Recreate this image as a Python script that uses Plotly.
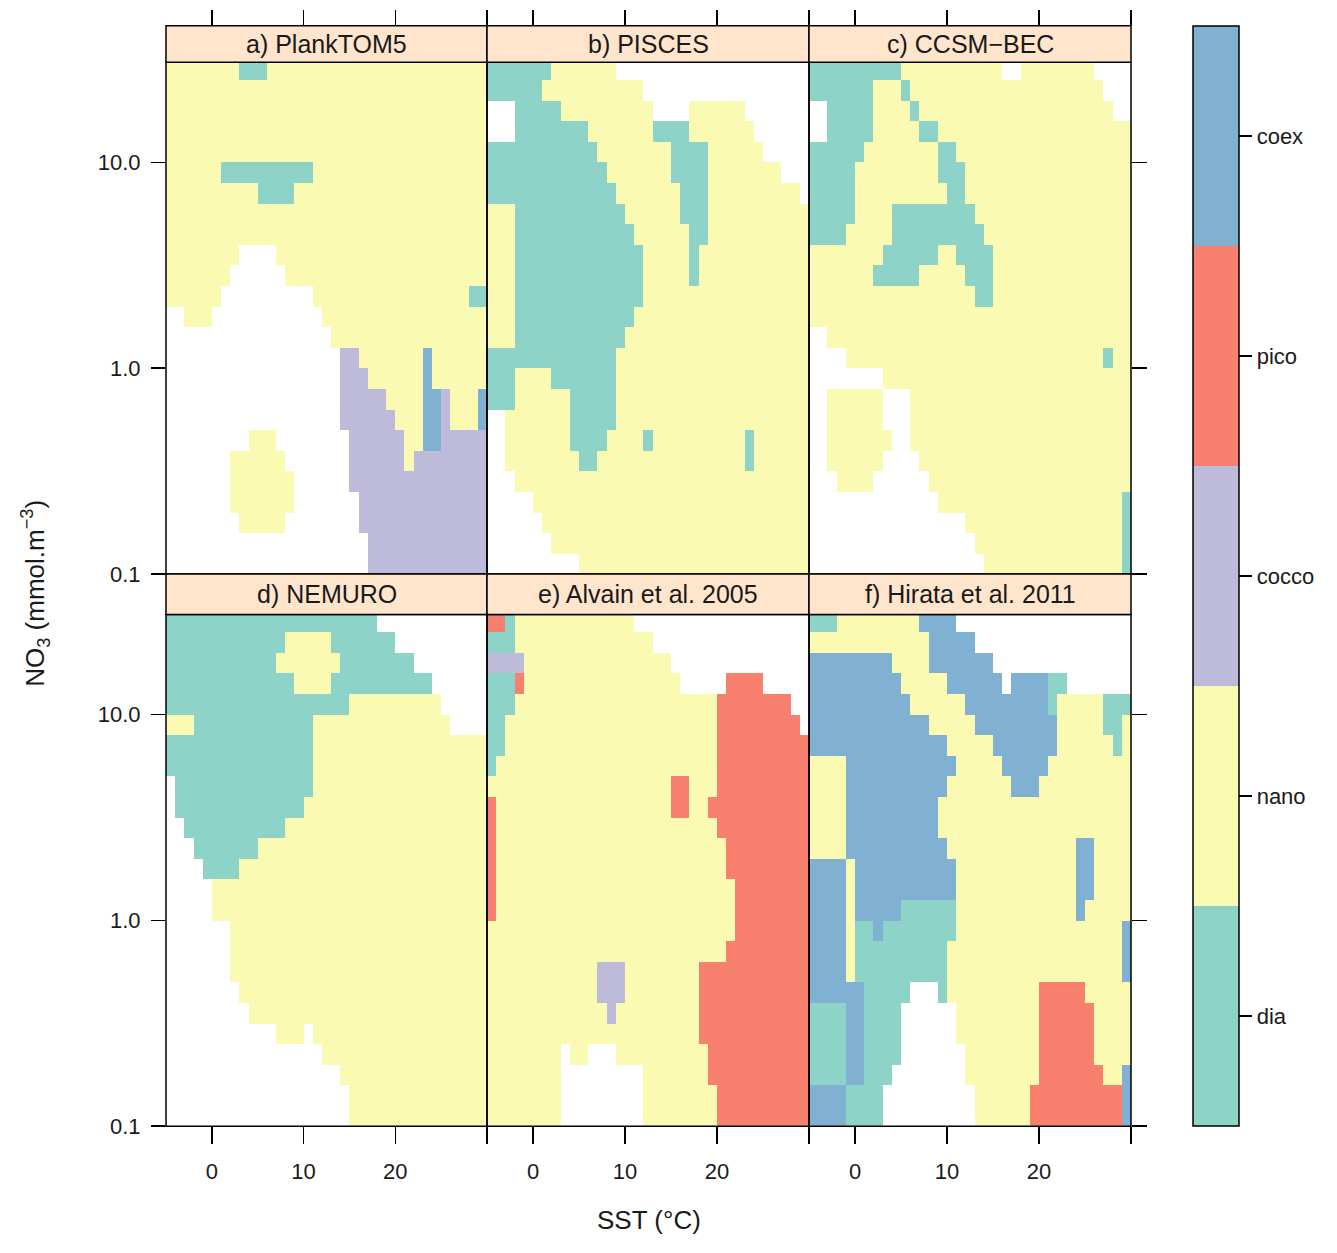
import plotly.graph_objects as go

# ---------------- data ----------------
categories = ["dia", "nano", "cocco", "pico", "coex"]
codes = {"d": 0, "n": 1, "c": 2, "p": 3, "x": 4}
colors = ["#8DD3C7", "#FAFAB2", "#BEBADA", "#F7806F", "#80B1D3"]

# SST cell centres (deg C) and log10(NO3) cell centres (top row first)
sst = [-4.5, -3.5, -2.5, -1.5, -0.5, 0.5, 1.5, 2.5, 3.5, 4.5, 5.5, 6.5, 7.5, 8.5,
       9.5, 10.5, 11.5, 12.5, 13.5, 14.5, 15.5, 16.5, 17.5, 18.5, 19.5, 20.5, 21.5,
       22.5, 23.5, 24.5, 25.5, 26.5, 27.5, 28.5, 29.5]
log_no3 = [1.45, 1.35, 1.25, 1.15, 1.05, 0.95, 0.85, 0.75, 0.65, 0.55, 0.45, 0.35,
           0.25, 0.15, 0.05, -0.05, -0.15, -0.25, -0.35, -0.45, -0.55, -0.65,
           -0.75, -0.85, -0.95]

plank_tom5 = [
    "nnnnn nnndd dnnnn nnnnn nnnnn nnnnn nnnnn",
    "nnnnn nnnnn nnnnn nnnnn nnnnn nnnnn nnnnn",
    "nnnnn nnnnn nnnnn nnnnn nnnnn nnnnn nnnnn",
    "nnnnn nnnnn nnnnn nnnnn nnnnn nnnnn nnnnn",
    "nnnnn nnnnn nnnnn nnnnn nnnnn nnnnn nnnnn",
    "nnnnn ndddd ddddd dnnnn nnnnn nnnnn nnnnn",
    "nnnnn nnnnn ddddn nnnnn nnnnn nnnnn nnnnn",
    "nnnnn nnnnn nnnnn nnnnn nnnnn nnnnn nnnnn",
    "nnnnn nnnnn nnnnn nnnnn nnnnn nnnnn nnnnn",
    "nnnnn nnn.. ..nnn nnnnn nnnnn nnnnn nnnnn",
    "nnnnn nn... ...nn nnnnn nnnnn nnnnn nnnnn",
    "nnnnn n.... ..... .nnnn nnnnn nnnnn nnndd",
    "..nnn ..... ..... ..nnn nnnnn nnnnn nnnnn",
    "..... ..... ..... ...nn nnnnn nnnnn nnnnn",
    "..... ..... ..... ....c cnnnn nnnxn nnnnn",
    "..... ..... ..... ....c ccnnn nnnxn nnnnn",
    "..... ..... ..... ....c ccccn nnnxx cnnnx",
    "..... ..... ..... ....c ccccc nnnxx cnnnx",
    "..... ....n nn... ..... ccccc cnnxx ccccc",
    "..... ..nnn nnn.. ..... ccccc cnccc ccccc",
    "..... ..nnn nnnn. ..... ccccc ccccc ccccc",
    "..... ..nnn nnnn. ..... .cccc ccccc ccccc",
    "..... ...nn nnn.. ..... .cccc ccccc ccccc",
    "..... ..... ..... ..... ..ccc ccccc ccccc",
    "..... ..... ..... ..... ..ccc ccccc ccccc",
]
pisces = [
    "ddddd ddnnn nnnn. ..... ..... ..... .....",
    "ddddd dnnnn nnnnn nn... ..... ..... .....",
    "...dd dddnn nnnnn nnn.. ..nnn nnn.. .....",
    "...dd ddddd dnnnn nnndd ddnnn nnnn. .....",
    "ddddd ddddd ddnnn nnnnn ddddn nnnnn .....",
    "ddddd ddddd dddnn nnnnn ddddn nnnnn nn...",
    "ddddd ddddd ddddn nnnnn ndddn nnnnn nnnn.",
    "nnndd ddddd ddddd nnnnn ndddn nnnnn nnnnn",
    "nnndd ddddd ddddd dnnnn nnddn nnnnn nnnnn",
    "nnndd ddddd ddddd ddnnn nndnn nnnnn nnnnn",
    "nnndd ddddd ddddd ddnnn nndnn nnnnn nnnnn",
    "nnndd ddddd ddddd ddnnn nnnnn nnnnn nnnnn",
    "nnndd ddddd ddddd dnnnn nnnnn nnnnn nnnnn",
    "nnndd ddddd ddddd nnnnn nnnnn nnnnn nnnnn",
    "ddddd ddddd ddddn nnnnn nnnnn nnnnn nnnnn",
    "dddnn nnddd ddddn nnnnn nnnnn nnnnn nnnnn",
    "dddnn nnnnd ddddn nnnnn nnnnn nnnnn nnnnn",
    "..nnn nnnnd ddddn nnnnn nnnnn nnnnn nnnnn",
    "..nnn nnnnd dddnn nndnn nnnnn nnndn nnnnn",
    "..nnn nnnnn ddnnn nnnnn nnnnn nnndn nnnnn",
    "...nn nnnnn nnnnn nnnnn nnnnn nnnnn nnnnn",
    "..... nnnnn nnnnn nnnnn nnnnn nnnnn nnnnn",
    "..... .nnnn nnnnn nnnnn nnnnn nnnnn nnnnn",
    "..... ..nnn nnnnn nnnnn nnnnn nnnnn nnnnn",
    "..... ..... nnnnn nnnnn nnnnn nnnnn nnnnn",
]
ccsm_bec = [
    "ddddd ddddd nnnnn nnnnn n..nn nnnnn n....",
    "ddddd ddnnn dnnnn nnnnn nnnnn nnnnn nn...",
    "..ddd ddnnn ndnnn nnnnn nnnnn nnnnn nnn..",
    "..ddd ddnnn nnddn nnnnn nnnnn nnnnn nnnnn",
    "ddddd dnnnn nnnnd dnnnn nnnnn nnnnn nnnnn",
    "ddddd nnnnn nnnnd ddnnn nnnnn nnnnn nnnnn",
    "ddddd nnnnn nnnnn ddnnn nnnnn nnnnn nnnnn",
    "ddddd nnnnd ddddd dddnn nnnnn nnnnn nnnnn",
    "ddddn nnnnd ddddd ddddn nnnnn nnnnn nnnnn",
    "nnnnn nnndd ddddn ndddd nnnnn nnnnn nnnnn",
    "nnnnn nnddd ddnnn nnddd nnnnn nnnnn nnnnn",
    "nnnnn nnnnn nnnnn nnndd nnnnn nnnnn nnnnn",
    "nnnnn nnnnn nnnnn nnnnn nnnnn nnnnn nnnnn",
    "..nnn nnnnn nnnnn nnnnn nnnnn nnnnn nnnnn",
    "....n nnnnn nnnnn nnnnn nnnnn nnnnn nndnn",
    "..... ...nn nnnnn nnnnn nnnnn nnnnn nnnnn",
    "..nnn nnn.. .nnnn nnnnn nnnnn nnnnn nnnnn",
    "..nnn nnn.. .nnnn nnnnn nnnnn nnnnn nnnnn",
    "..nnn nnnn. .nnnn nnnnn nnnnn nnnnn nnnnn",
    "..nnn nnn.. ..nnn nnnnn nnnnn nnnnn nnnnn",
    "...nn nn... ...nn nnnnn nnnnn nnnnn nnnnn",
    "..... ..... ....n nnnnn nnnnn nnnnn nnnnd",
    "..... ..... ..... ..nnn nnnnn nnnnn nnnnd",
    "..... ..... ..... ...nn nnnnn nnnnn nnnnd",
    "..... ..... ..... ....n nnnnn nnnnn nnnnd",
]
nemuro = [
    "ddddd ddddd ddddd ddddd ddd.. ..... .....",
    "ddddd ddddd dddnn nnndd ddddd ..... .....",
    "ddddd ddddd ddnnn nnnnd ddddd dd... .....",
    "ddddd ddddd ddddn nnndd ddddd dddd. .....",
    "ddddd ddddd ddddd ddddd nnnnn nnnnn .....",
    "nnndd ddddd ddddd dnnnn nnnnn nnnnn n....",
    "ddddd ddddd ddddd dnnnn nnnnn nnnnn nnnnn",
    "ddddd ddddd ddddd dnnnn nnnnn nnnnn nnnnn",
    ".dddd ddddd ddddd dnnnn nnnnn nnnnn nnnnn",
    ".dddd ddddd ddddd nnnnn nnnnn nnnnn nnnnn",
    "..ddd ddddd dddnn nnnnn nnnnn nnnnn nnnnn",
    "...dd ddddd nnnnn nnnnn nnnnn nnnnn nnnnn",
    "....d dddnn nnnnn nnnnn nnnnn nnnnn nnnnn",
    "..... nnnnn nnnnn nnnnn nnnnn nnnnn nnnnn",
    "..... nnnnn nnnnn nnnnn nnnnn nnnnn nnnnn",
    "..... ..nnn nnnnn nnnnn nnnnn nnnnn nnnnn",
    "..... ..nnn nnnnn nnnnn nnnnn nnnnn nnnnn",
    "..... ..nnn nnnnn nnnnn nnnnn nnnnn nnnnn",
    "..... ...nn nnnnn nnnnn nnnnn nnnnn nnnnn",
    "..... ....n nnnnn nnnnn nnnnn nnnnn nnnnn",
    "..... ..... ..nnn .nnnn nnnnn nnnnn nnnnn",
    "..... ..... ..... ..nnn nnnnn nnnnn nnnnn",
    "..... ..... ..... ....n nnnnn nnnnn nnnnn",
    "..... ..... ..... ..... nnnnn nnnnn nnnnn",
    "..... ..... ..... ..... nnnnn nnnnn nnnnn",
]
alvain_2005 = [
    "ppdnn nnnnn nnnnn n.... ..... ..... .....",
    "dddnn nnnnn nnnnn nnn.. ..... ..... .....",
    "ccccn nnnnn nnnnn nnnnn ..... ..... .....",
    "dddpn nnnnn nnnnn nnnnn n.... .pppp .....",
    "dddnn nnnnn nnnnn nnnnn nnnnn ppppp ppp..",
    "ddnnn nnnnn nnnnn nnnnn nnnnn ppppp pppp.",
    "ddnnn nnnnn nnnnn nnnnn nnnnn ppppp ppppp",
    "dnnnn nnnnn nnnnn nnnnn nnnnn ppppp ppppp",
    "nnnnn nnnnn nnnnn nnnnn ppnnn ppppp ppppp",
    "pnnnn nnnnn nnnnn nnnnn ppnnp ppppp ppppp",
    "pnnnn nnnnn nnnnn nnnnn nnnnn ppppp ppppp",
    "pnnnn nnnnn nnnnn nnnnn nnnnn npppp ppppp",
    "pnnnn nnnnn nnnnn nnnnn nnnnn npppp ppppp",
    "pnnnn nnnnn nnnnn nnnnn nnnnn nnppp ppppp",
    "pnnnn nnnnn nnnnn nnnnn nnnnn nnppp ppppp",
    "nnnnn nnnnn nnnnn nnnnn nnnnn nnppp ppppp",
    "nnnnn nnnnn nnnnn nnnnn nnnnn npppp ppppp",
    "nnnnn nnnnn nnccc nnnnn nnnpp ppppp ppppp",
    "nnnnn nnnnn nnccc nnnnn nnnpp ppppp ppppp",
    "nnnnn nnnnn nnncn nnnnn nnnpp ppppp ppppp",
    "nnnnn nnnnn nnnnn nnnnn nnnpp ppppp ppppp",
    "nnnnn nnn.n n...n nnnnn nnnnp ppppp ppppp",
    "nnnnn nnn.. ..... ..nnn nnnnp ppppp ppppp",
    "nnnnn nnn.. ..... ..nnn nnnnn ppppp ppppp",
    "nnnnn nnn.. ..... ..nnn nnnnn ppppp ppppp",
]
hirata_2011 = [
    "dddnn nnnnn nnxxx x.... ..... ..... .....",
    "nnnnn nnnnn nnnxx xxx.. ..... ..... .....",
    "xxxxx xxxxn nnnxx xxxxx ..... ..... .....",
    "xxxxx xxxxx nnnnn xxxxx x.xxx xdd.. .....",
    "xxxxx xxxxx xnnnn nnxxx xxxxx xdnnn nnddd",
    "xxxxx xxxxx xxxnn nnnxx xxxxx xxnnn nnddn",
    "xxxxx xxxxx xxxxx nnnnn xxxxx xxnnn nnndn",
    "nnnnx xxxxx xxxxx xnnnn nxxxx xnnnn nnnnn",
    "nnnnx xxxxx xxxxx nnnnn nnxxx nnnnn nnnnn",
    "nnnnx xxxxx xxxxn nnnnn nnnnn nnnnn nnnnn",
    "nnnnx xxxxx xxxxn nnnnn nnnnn nnnnn nnnnn",
    "nnnnx xxxxx xxxxx nnnnn nnnnn nnnnx xnnnn",
    "xxxxn xxxxx xxxxx xnnnn nnnnn nnnnx xnnnn",
    "xxxxn xxxxx xxxxx xnnnn nnnnn nnnnx xnnnn",
    "xxxxn xxxxx ddddd dnnnn nnnnn nnnnx nnnnn",
    "xxxxn ddxdd ddddd dnnnn nnnnn nnnnn nnnnx",
    "xxxxn ddddd ddddd nnnnn nnnnn nnnnn nnnnx",
    "xxxxn ddddd ddddd nnnnn nnnnn nnnnn nnnnx",
    "xxxxx xdddd d...d nnnnn nnnnn ppppp nnnnn",
    "ddddx xdddd ..... .nnnn nnnnn ppppp pnnnn",
    "ddddx xdddd ..... .nnnn nnnnn ppppp pnnnn",
    "ddddx xdddd ..... ..nnn nnnnn ppppp pnnnn",
    "ddddx xddd. ..... ..nnn nnnnn ppppp ppnnx",
    "xxxxd ddd.. ..... ...nn nnnnp ppppp ppppx",
    "xxxxd ddd.. ..... ...nn nnnnp ppppp ppppx",
]

panel_titles = ["a) PlankTOM5", "b) PISCES", "c) CCSM\u2212BEC",
                "d) NEMURO", "e) Alvain et al. 2005", "f) Hirata et al. 2011"]
panel_grids = [plank_tom5, pisces, ccsm_bec, nemuro, alvain_2005, hirata_2011]

x_ticks = [0, 10, 20]
x_tick_text = ["0", "10", "20"]
x_edge_tick = [30]
y_ticks = [-1, 0, 1]
y_tick_text = ["0.1", "1.0", "10.0"]

# ---------------- layout geometry (reference pixels -> paper fractions) ----------------
W, H = 1337, 1253
FONT = "Liberation Sans"
TXT = "#1a1a1a"


def fx(p):
    return p / W


def fy(p):
    return 1 - p / H


col_px = [(166, 487), (487, 809), (809, 1131)]
row_px = [(63, 580), (621, 1138)]
strip_px = [(26, 63), (580, 621)]

colorscale = []
for i, c in enumerate(colors):
    colorscale += [[i / 5, c], [(i + 1) / 5, c]]


def to_z(grid):
    z = []
    for row in grid:
        s = row.replace(" ", "")
        z.append([codes[ch] if ch in codes else None for ch in s])
    return z


fig = go.Figure()
layout = dict(width=W, height=H, margin=dict(l=0, r=0, t=0, b=0),
              paper_bgcolor="white", plot_bgcolor="white",
              font=dict(family=FONT, color=TXT, size=22), showlegend=False)
shapes, annotations = [], []

for i, grid in enumerate(panel_grids):
    r, c = divmod(i, 3)
    n = i + 1
    xa = "x" if n == 1 else f"x{n}"
    ya = "y" if n == 1 else f"y{n}"
    tr = go.Heatmap(
        x=sst, y=log_no3, z=to_z(grid), xaxis=xa, yaxis=ya,
        zmin=-0.5, zmax=4.5, colorscale=colorscale, hoverinfo="skip",
        showscale=(i == 0),
    )
    if i == 0:
        tr.colorbar = dict(
            tickmode="array", tickvals=[0, 1, 2, 3, 4], ticktext=categories,
            x=fx(1193), xanchor="left", xpad=0, thickness=46, thicknessmode="pixels",
            len=(1138 - 26) / H, lenmode="fraction", y=fy(582), yanchor="middle", ypad=0,
            outlinewidth=1.5, outlinecolor="black", ticks="outside", ticklen=13,
            tickwidth=1.5, tickcolor="black", tickfont=dict(size=22, family=FONT, color=TXT),
        )
    fig.add_trace(tr)

    xdom = [fx(col_px[c][0]), fx(col_px[c][1])]
    ydom = [fy(row_px[r][1]), fy(row_px[r][0])]
    xaxis = dict(domain=xdom, range=[-5, 30], showgrid=False, zeroline=False,
                 tickmode="array", tickvals=x_ticks, ticktext=x_tick_text,
                 ticks="outside", tickwidth=1.5, tickcolor="black", showline=False)
    if r == 0:
        xaxis.update(anchor="free", position=fy(26), side="top", ticklen=16,
                     showticklabels=False,
                     minor=dict(tickmode="array", tickvals=x_edge_tick, ticks="outside",
                                ticklen=16, tickwidth=1.5, tickcolor="black", showgrid=False))
    else:
        xaxis.update(anchor=ya, side="bottom", ticklen=17, showticklabels=True,
                     tickfont=dict(size=22, family=FONT, color=TXT), ticklabelstandoff=8,
                     minor=dict(tickmode="array", tickvals=x_edge_tick, ticks="outside",
                                ticklen=17, tickwidth=1.5, tickcolor="black", showgrid=False))
    yaxis = dict(domain=ydom, range=[-1, 1.486], anchor=xa, showgrid=False, zeroline=False,
                 tickmode="array", tickvals=y_ticks, ticktext=y_tick_text, showline=False)
    if c == 0:
        yaxis.update(side="left", ticks="outside", ticklen=14, tickwidth=1.5, tickcolor="black",
                     showticklabels=True, tickfont=dict(size=22, family=FONT, color=TXT),
                     ticklabelstandoff=6)
    elif c == 2:
        yaxis.update(side="right", ticks="outside", ticklen=15, tickwidth=1.5, tickcolor="black",
                     showticklabels=False)
    else:
        yaxis.update(ticks="", showticklabels=False)
    layout["xaxis" if n == 1 else f"xaxis{n}"] = xaxis
    layout["yaxis" if n == 1 else f"yaxis{n}"] = yaxis

    # panel border
    shapes.append(dict(type="rect", xref=f"{xa} domain", yref=f"{ya} domain",
                       x0=0, x1=1, y0=0, y1=1, line=dict(color="black", width=1.5)))
    # strip
    shapes.append(dict(type="rect", xref="paper", yref="paper",
                       x0=xdom[0], x1=xdom[1], y0=fy(strip_px[r][1]), y1=fy(strip_px[r][0]),
                       fillcolor="#FFE5CC", line=dict(color="black", width=1.5), layer="above"))
    annotations.append(dict(text=panel_titles[i], xref="paper", yref="paper",
                            x=(xdom[0] + xdom[1]) / 2,
                            y=(fy(strip_px[r][0]) + fy(strip_px[r][1])) / 2,
                            xanchor="center", yanchor="middle", showarrow=False,
                            font=dict(size=25, family=FONT, color=TXT)))

annotations.append(dict(text="SST (\u00b0C)", xref="paper", yref="paper",
                        x=fx(648.5), y=fy(1233), xanchor="center", yanchor="middle",
                        showarrow=False, font=dict(size=26, family=FONT, color=TXT)))
annotations.append(dict(text="NO<sub>3</sub> (mmol.m<sup>\u22123</sup>)", xref="paper",
                        yref="paper", x=fx(35), y=fy(600), xanchor="center",
                        yanchor="middle", textangle=-90, showarrow=False,
                        font=dict(size=26, family=FONT, color=TXT)))

layout["shapes"] = shapes
layout["annotations"] = annotations
fig.update_layout(**layout)
fig.write_html(
    "out.html",
    config={"displayModeBar": False, "staticPlot": True},
    post_script=(
        "document.body.style.margin='0px';"
        "document.body.style.overflow='hidden';"
    ),
)
